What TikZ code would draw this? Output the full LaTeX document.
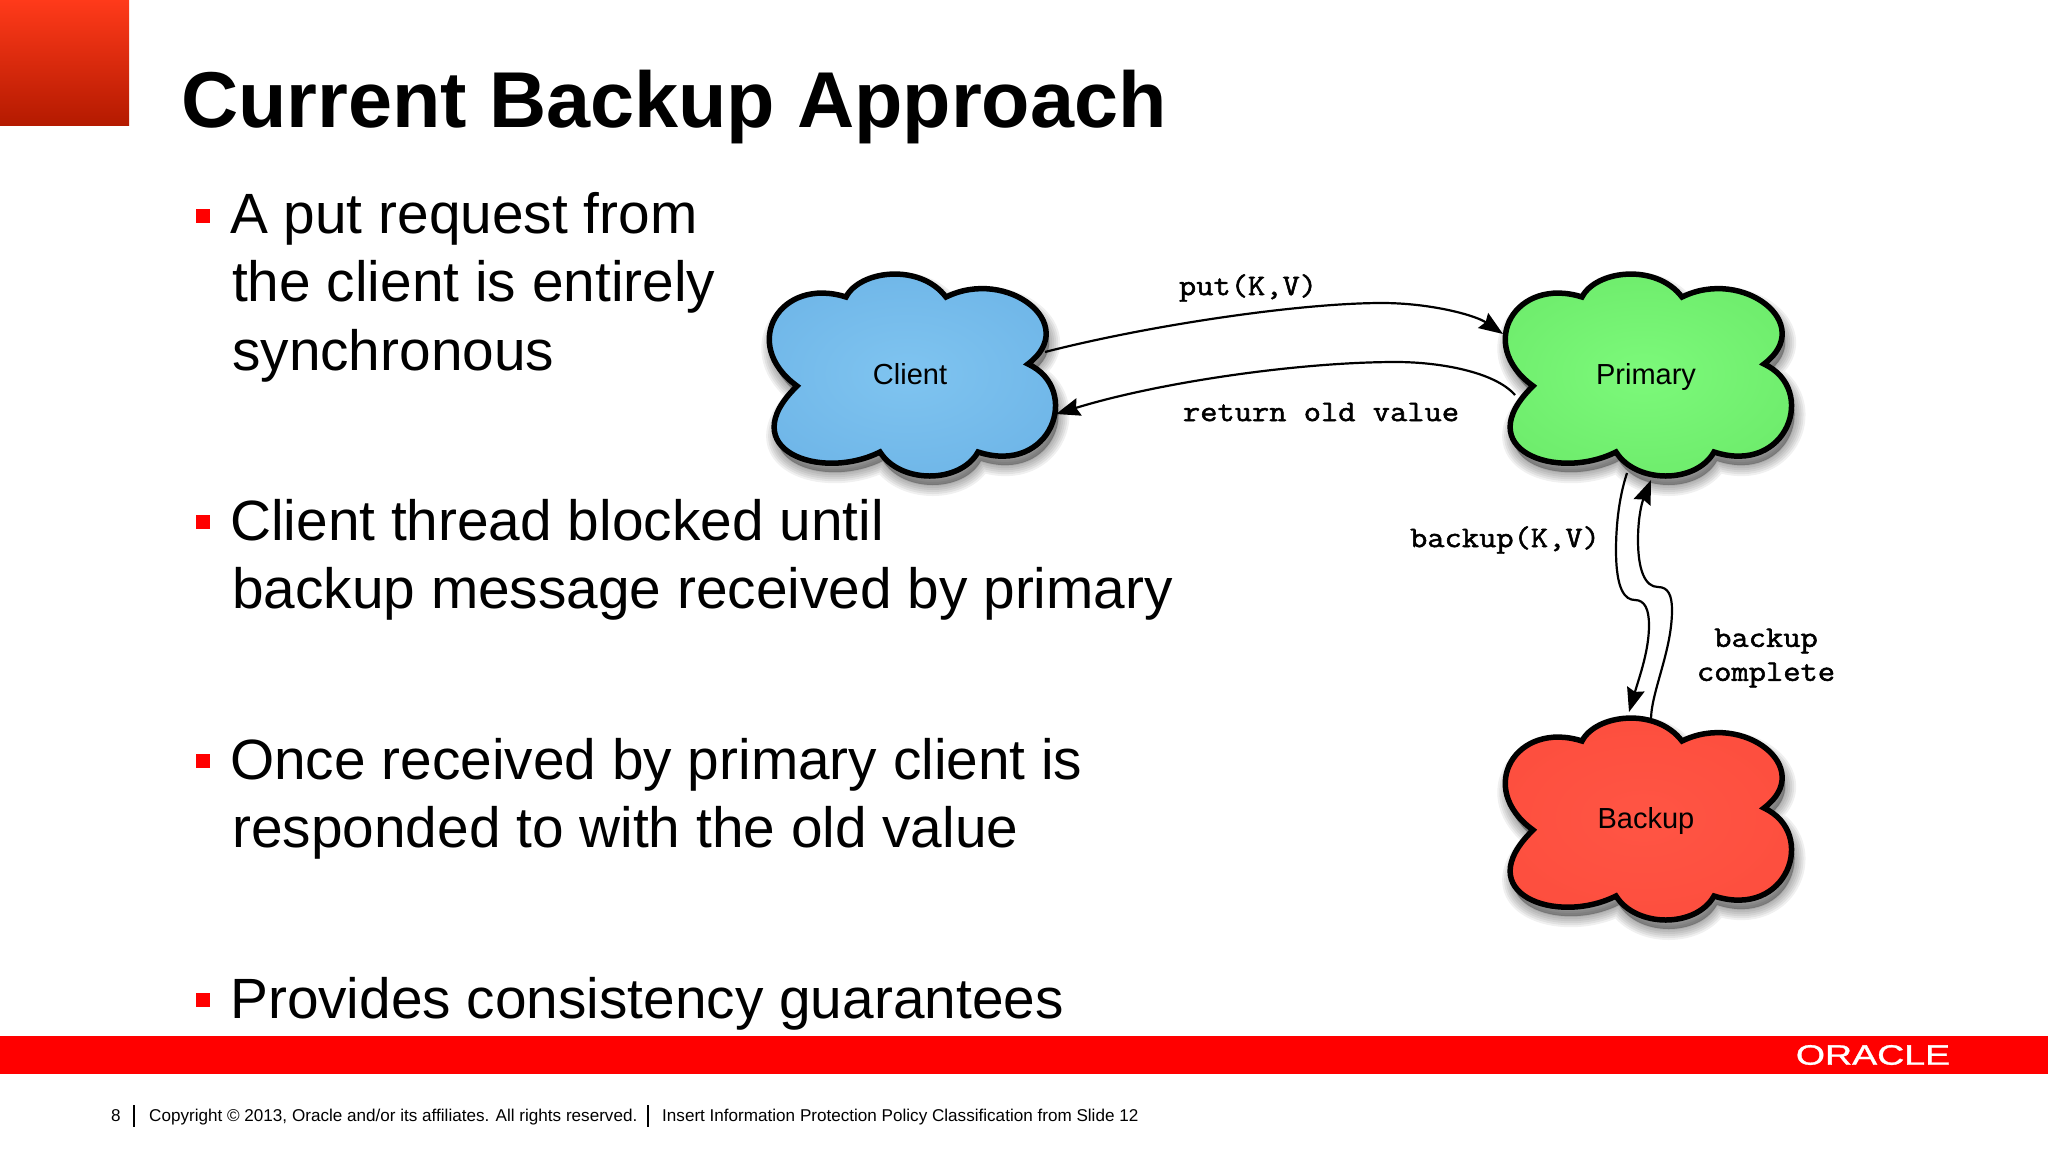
\documentclass[tikz,border=0pt]{standalone}
\usepackage{fontspec}
\setmainfont{Liberation Sans}
\newfontfamily\monofam[FakeBold=1.6]{Latin Modern Mono}
\newfontfamily\logofam[FakeBold=1.0]{Liberation Sans}
\usetikzlibrary{arrows.meta}
\definecolor{oraclered}{HTML}{FF0000}
\definecolor{cornertop}{HTML}{FF3A1A}
\definecolor{cornerbot}{HTML}{B41A00}
\definecolor{blueIn}{HTML}{7FC4F0}
\definecolor{blueOut}{HTML}{6FB6E8}
\definecolor{greenIn}{HTML}{7CF97A}
\definecolor{greenOut}{HTML}{6EEC6C}
\definecolor{redIn}{HTML}{FF5544}
\definecolor{redOut}{HTML}{FD4E3E}
\newcommand{\cloudoutline}{(-64,-77) .. controls (-50,-104) and (10,-111) .. (36,-77)
  .. controls (97,-107) and (171,-50) .. (118,-10)
  .. controls (172,15) and (142,102) .. (68,78)
  .. controls (50,110) and (-10,110) .. (-30,78)
  .. controls (-90,108) and (-178,75) .. (-113,12)
  .. controls (-171,-30) and (-130,-98) .. (-64,-77) -- cycle}
\newcommand{\cloudat}[4]{%
  \begin{scope}[shift={(#1+3,#2+9)}]
    \foreach \w in {22,18,14,10,6,2}
      \draw[line width=\w pt,black,opacity=.06,line join=round,fill=black] \cloudoutline;
  \end{scope}
  \begin{scope}[shift={(#1,#2)}]
    \shade[inner color=#3,outer color=#4] \cloudoutline;
    \draw[line width=5.5pt,black,line join=miter,miter limit=3] \cloudoutline;
  \end{scope}}
\tikzset{
  x=1pt,y=-1pt,
  titletext/.style={anchor=base west,inner sep=0pt,font=\fontsize{79.2}{79.2}\selectfont\bfseries},
  bodytext/.style={anchor=base west,inner sep=0pt,font=\fontsize{56.8}{56.8}\selectfont,text=black},
  bulletbox/.style={fill=oraclered,draw=none,minimum size=14pt,inner sep=0pt},
  cloudtext/.style={anchor=base,inner sep=0pt,font=\fontsize{29}{29}\selectfont},
  msgtext/.style={inner sep=0pt,font=\fontsize{30}{30}\selectfont\monofam,align=center,xscale=1.117},
  msg/.style={line width=2.2pt,black,-{Stealth[length=24pt,width=18pt,inset=3pt]}},
  foottext/.style={anchor=base west,inner sep=0pt,font=\fontsize{17.1}{17.1}\selectfont},
  footrule/.style={line width=1.2pt,black}
}
\begin{document}
\begin{tikzpicture}
\useasboundingbox[fill=white] (0,0) rectangle (2048,1152);
% corner block
\shade[top color=cornertop,bottom color=cornerbot] (0,0) rectangle (129,125);
% title and body
\node[titletext] (title) at (181,127) {Current Backup Approach};
\node[bulletbox] (b1) at (203,215.5) {};
\node[bodytext] (t1a) at (230,233.5) {A put request from};
\node[bodytext] (t1b) at (232,301.5) {the client is entirely};
\node[bodytext] (t1c) at (232,370.5) {synchronous};
\node[bulletbox] (b2) at (203,522) {};
\node[bodytext] (t2a) at (230,540.5) {Client thread blocked until};
\node[bodytext] (t2b) at (232,608.5) {backup message received by primary};
\node[bulletbox] (b3) at (203,761) {};
\node[bodytext] (t3a) at (230,779.5) {Once received by primary client is};
\node[bodytext] (t3b) at (232,847.5) {responded to with the old value};
\node[bulletbox] (b4) at (203,1000) {};
\node[bodytext] (t4a) at (230,1018) {Provides consistency guarantees};
% clouds
\cloudat{910}{374}{blueIn}{blueOut}
\cloudat{1646}{374}{greenIn}{greenOut}
\cloudat{1646}{818}{redIn}{redOut}
\node[cloudtext] (client) at (910,384.5) {Client};
\node[cloudtext] (primary) at (1646,384.5) {Primary};
\node[cloudtext] (backup) at (1646,828.5) {Backup};
% connector ends
\coordinate (cOut) at (1045,352);
\coordinate (pIn) at (1503,334);
\coordinate (pOut) at (1515,395);
\coordinate (cIn) at (1056,414);
\coordinate (pDown) at (1627,473);
\coordinate (bIn) at (1629,712);
\coordinate (bOut) at (1651,718);
\coordinate (pUp) at (1651,480);
% connectors
\draw[msg] (cOut) .. controls (1150,325) and (1300,303) .. (1382,303)
  .. controls (1430,303) and (1475,315) .. (pIn);
\draw[msg] (pOut) .. controls (1495,372) and (1440,362) .. (1396,362)
  .. controls (1300,362) and (1160,382) .. (cIn);
\draw[msg] (pDown) .. controls (1618,500) and (1616,530) .. (1616,550)
  .. controls (1616,590) and (1625,600) .. (1635,600)
  .. controls (1645,600) and (1649,610) .. (1649,625)
  .. controls (1649,650) and (1640,675) .. (bIn);
\draw[msg] (bOut) .. controls (1652,690) and (1672,650) .. (1672,610)
  .. controls (1672,595) and (1668,587) .. (1658,587)
  .. controls (1645,587) and (1638,570) .. (1638,540)
  .. controls (1638,520) and (1641,505) .. (pUp);
% message labels
\node[msgtext] (lput) at (1248,288) {put(K,V)};
\node[msgtext] (lret) at (1321,412) {return old value};
\node[msgtext] (lbak) at (1505,540) {backup(K,V)};
\node[msgtext] (lcoma) at (1766,641) {backup};
\node[msgtext] (lcomb) at (1766,675) {complete};
% bottom band
\fill[oraclered] (0,1036) rectangle (2048,1074);
\node[inner sep=0pt,text=white,font=\fontsize{28}{28}\selectfont\logofam,xscale=1.34] (oracle) at (1873,1055) {ORACLE};
% footer
\node[foottext] (pg) at (111,1121) {8};
\coordinate (r1a) at (134,1105);
\coordinate (r1b) at (134,1127);
\draw[footrule] (r1a) -- (r1b);
\node[foottext] (copy) at (149,1121) {Copyright © 2013, Oracle and/or its affiliates. All rights reserved.};
\coordinate (r2a) at (648,1105);
\coordinate (r2b) at (648,1127);
\draw[footrule] (r2a) -- (r2b);
\node[foottext] (cls) at (662,1121) {Insert Information Protection Policy Classification from Slide 12};
\end{tikzpicture}
\end{document}
